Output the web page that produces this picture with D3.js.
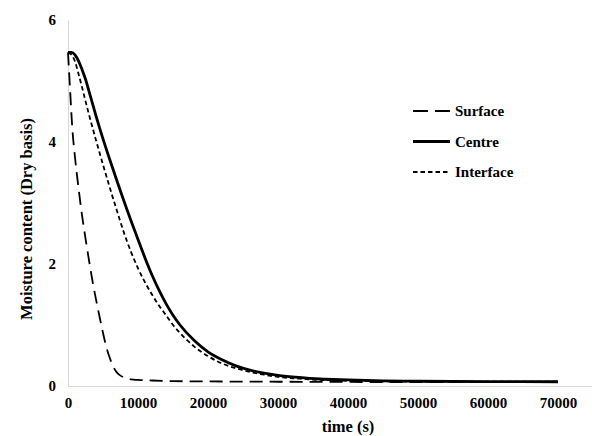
<!DOCTYPE html>
<html>
<head>
<meta charset="utf-8">
<script src="https://cdn.jsdelivr.net/npm/d3@7"></script>
<style>
    body { margin: 0; background: #fff; }
    text { font-family: "Liberation Serif", "Times New Roman", serif; font-weight: bold; }
</style>
</head>
<body>
<div id="chart"></div>
<script>
// time (s) samples and moisture content (dry basis)
const surfaceTime = [0, 300, 600, 1000, 1500, 2000, 2500, 3000, 3500, 4000, 4500, 5000, 5500, 6000, 6500, 7000, 7500, 8000, 9000, 10000, 12000, 15000, 20000, 30000, 50000, 70000];
const surfaceMoisture = [5.47, 4.85, 4.25, 3.75, 3.25, 2.80, 2.42, 2.06, 1.72, 1.42, 1.14, 0.87, 0.63, 0.45, 0.31, 0.22, 0.17, 0.14, 0.11, 0.10, 0.09, 0.08, 0.075, 0.07, 0.065, 0.065];

const centreTime = [0, 500, 1000, 1500, 2000, 2500, 3000, 3500, 4000, 5000, 6000, 7000, 8000, 9000, 10000, 11000, 12000, 13000, 14000, 15000, 16000, 18000, 20000, 22000, 24000, 26000, 28000, 30000, 33000, 36000, 40000, 45000, 50000, 60000, 70000];
const centreMoisture = [5.47, 5.47, 5.43, 5.33, 5.19, 5.03, 4.83, 4.63, 4.43, 4.05, 3.70, 3.36, 3.03, 2.71, 2.40, 2.10, 1.82, 1.57, 1.35, 1.16, 1.00, 0.75, 0.56, 0.43, 0.33, 0.26, 0.21, 0.175, 0.14, 0.115, 0.10, 0.085, 0.078, 0.072, 0.07];

const interfaceTime = [0, 500, 1000, 1500, 2000, 2500, 3000, 4000, 5000, 6000, 7000, 8000, 9000, 10000, 11000, 12000, 13000, 14000, 15000, 16000, 18000, 20000, 22000, 24000, 26000, 28000, 30000, 33000, 36000, 40000, 45000, 50000, 60000, 70000];
const interfaceMoisture = [5.47, 5.43, 5.32, 5.12, 4.90, 4.67, 4.45, 4.03, 3.63, 3.24, 2.87, 2.51, 2.20, 1.93, 1.70, 1.50, 1.32, 1.16, 1.00, 0.87, 0.65, 0.49, 0.37, 0.29, 0.23, 0.185, 0.15, 0.12, 0.10, 0.085, 0.077, 0.073, 0.07, 0.07];

const xTicks = [0, 10000, 20000, 30000, 40000, 50000, 60000, 70000];
const yTicks = [0, 2, 4, 6];

const seriesNames = ['Surface', 'Centre', 'Interface'];

const width = 592;
const height = 436;

const series = [
    { name: 'Surface', time: surfaceTime, values: surfaceMoisture, width: 1.8, dash: '13,7', legendDash: '15,7' },
    { name: 'Centre', time: centreTime, values: centreMoisture, width: 2.8, dash: null, legendDash: null },
    { name: 'Interface', time: interfaceTime, values: interfaceMoisture, width: 1.8, dash: '4.5,3', legendDash: '4.5,3' }
];

const svg = d3.select('#chart')
    .append('svg')
    .attr('width', width)
    .attr('height', height);

svg.append('rect')
    .attr('width', width)
    .attr('height', height)
    .attr('fill', '#fff');

const xScale = d3.scaleLinear()
    .domain([0, 75000])
    .range([68, 593]);

const yScale = d3.scaleLinear()
    .domain([0, 6])
    .range([386, 20]);

// axes: light grey lines, no tick marks
const xAxis = svg.append('g')
    .attr('transform', `translate(0, ${yScale(0)})`)
    .call(d3.axisBottom(xScale).tickValues(xTicks).tickSize(0).tickPadding(11).tickFormat(d3.format('d')));

const yAxis = svg.append('g')
    .attr('transform', `translate(${xScale(0)}, 0)`)
    .call(d3.axisLeft(yScale).tickValues(yTicks).tickSize(0).tickPadding(12).tickFormat(d3.format('d')));

[xAxis, yAxis].forEach(ax => {
    ax.select('.domain').attr('stroke', '#d9d9d9').attr('stroke-width', 1.2);
    ax.selectAll('text')
        .attr('fill', '#000')
        .style('font-family', '"Liberation Serif", serif')
        .style('font-weight', 'bold')
        .style('font-size', '15px');
});

const line = d3.line()
    .x(d => xScale(d[0]))
    .y(d => yScale(d[1]))
    .curve(d3.curveMonotoneX);

series.forEach(s => {
    svg.append('path')
        .datum(s.time.map((t, i) => [t, s.values[i]]))
        .attr('fill', 'none')
        .attr('stroke', '#000')
        .attr('stroke-width', s.width)
        .attr('stroke-dasharray', s.dash)
        .attr('d', line);
});

// axis titles
svg.append('text')
    .attr('x', 348)
    .attr('y', 432)
    .attr('text-anchor', 'middle')
    .style('font-size', '16.5px')
    .text('time (s)');

svg.append('text')
    .attr('transform', 'translate(32, 219) rotate(-90)')
    .attr('text-anchor', 'middle')
    .style('font-size', '16.5px')
    .text('Moisture content (Dry basis)');

// legend
const legend = svg.append('g');
series.forEach((s, i) => {
    const y = 111 + i * 30.5;
    legend.append('line')
        .attr('x1', 413)
        .attr('x2', 450)
        .attr('y1', y)
        .attr('y2', y)
        .attr('stroke', '#000')
        .attr('stroke-width', s.name === 'Centre' ? 3 : 2)
        .attr('stroke-dasharray', s.legendDash);
    legend.append('text')
        .attr('x', 455)
        .attr('y', y + 5)
        .style('font-size', '15px')
        .text(seriesNames[i]);
});
</script>
</body>
</html>
